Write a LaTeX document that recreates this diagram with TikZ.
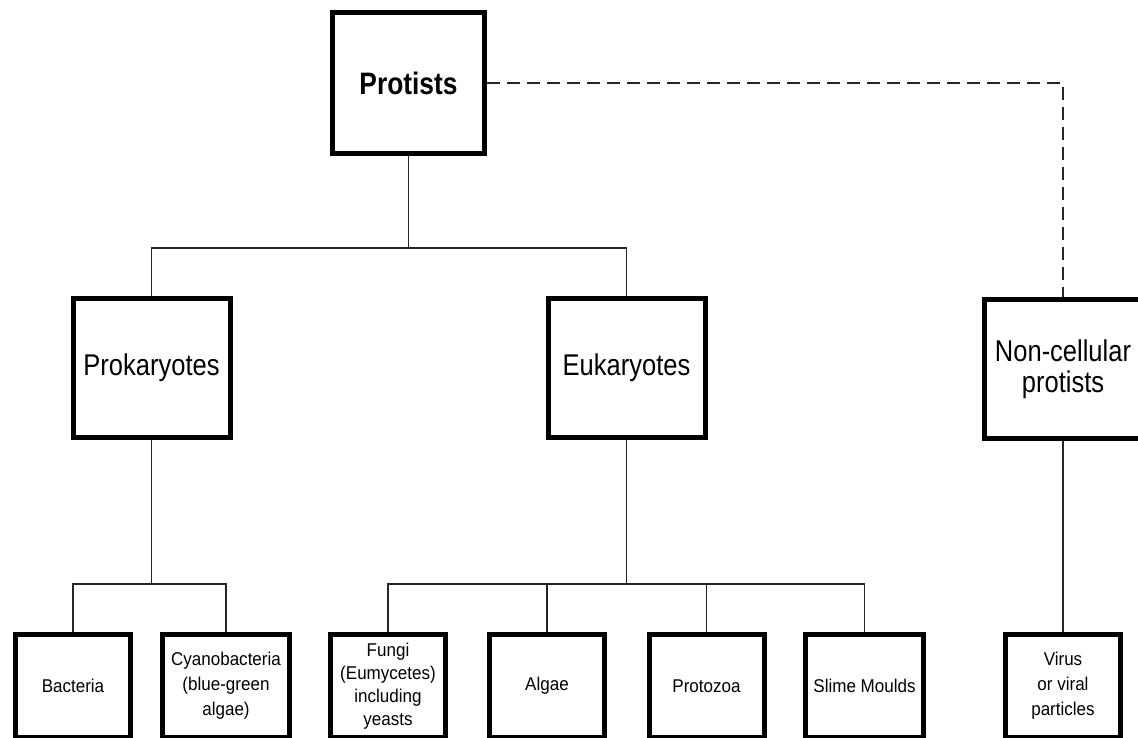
\documentclass[tikz,border=0pt]{standalone}
\usepackage{fontspec}
\setmainfont{Liberation Sans}
\newfontfamily\bigf[FakeStretch=0.85]{Liberation Sans}
\newfontfamily\smallf[FakeStretch=0.92]{Liberation Sans}
\begin{document}
\begin{tikzpicture}[x=1pt,y=-1pt,
  box/.style={draw=black, line width=5pt, fill=white, align=center, inner sep=2pt},
  topbox/.style={box, minimum width=152pt, minimum height=141pt, font=\bigf\bfseries\fontsize{31}{30}\selectfont},
  midbox/.style={box, minimum width=157pt, minimum height=139pt, font=\bigf\fontsize{30}{31}\selectfont},
  leafbox/.style={box, minimum width=115pt, minimum height=103pt, font=\smallf\fontsize{18.5}{25}\selectfont},
  conn/.style={draw=black!85, line width=1.4pt},
  dconn/.style={conn, dash pattern=on 13pt off 7pt}]
\clip (0,0) rectangle (1138,738);
\fill[white] (0,0) rectangle (1138,738);
% nodes
\node[topbox] (prot) at (408.5,83) {Protists};
\node[midbox] (pro) at (151.5,368) {Prokaryotes};
\node[midbox] (euk) at (626.5,368) {Eukaryotes};
\node[midbox] (nc) at (1063,369) {Non-cellular\\protists};
\node[leafbox] (bac) at (73,686) {Bacteria};
\node[leafbox, minimum width=127pt] (cya) at (226,686) {Cyanobacteria\\(blue-green\\algae)};
\node[leafbox, font=\smallf\fontsize{18.5}{23}\selectfont] (fun) at (388,686) {Fungi\\(Eumycetes)\\including\\yeasts};
\node[leafbox] (alg) at (547,686) {Algae};
\node[leafbox] (prz) at (706.5,686) {Protozoa};
\node[leafbox, minimum width=118pt] (sli) at (864.5,686) {Slime Moulds};
\node[leafbox] (vir) at (1063,686) {Virus\\or viral\\particles};
% connectors
\draw[conn] (prot.south) -- ++(0,92) coordinate (j1);
\draw[conn] (pro.north) |- (j1) -| (euk.north);
\draw[dconn] (prot.east) -| (nc.north);
\draw[conn] (pro.south) -- ++(0,144) coordinate (j2);
\draw[conn] (bac.north) |- (j2) -| (cya.north);
\draw[conn] (euk.south) -- ++(0,144) coordinate (j3);
\draw[conn] (fun.north) |- (j3) -| (sli.north);
\draw[conn] (alg.north) -- (alg.north |- j3);
\draw[conn] (prz.north) -- (prz.north |- j3);
\draw[conn] (nc.south) -- (vir.north);
\end{tikzpicture}
\end{document}
